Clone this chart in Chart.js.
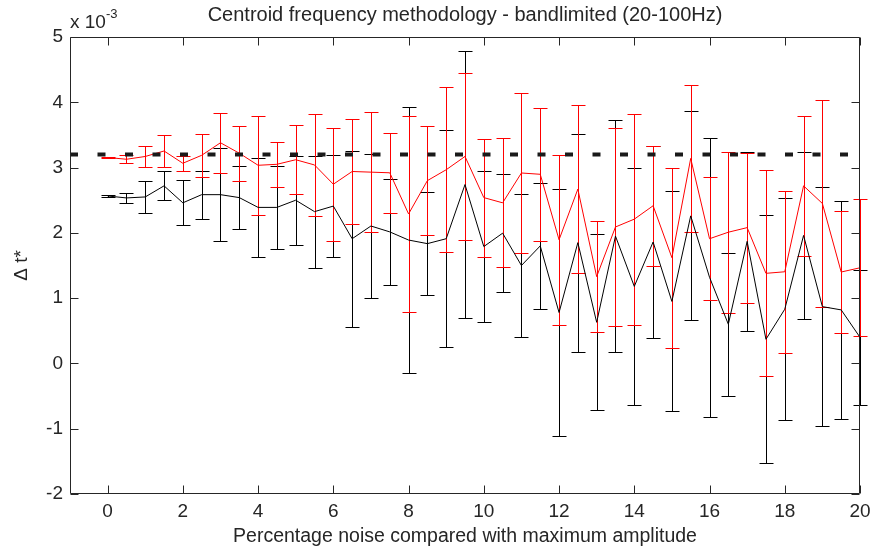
<!DOCTYPE html>
<html>
<head>
<meta charset="utf-8">
<script src="https://cdn.jsdelivr.net/npm/chart.js@4.4.0/dist/chart.umd.min.js"></script>
<style>
  body { margin: 0; background: #fff; }
  #wrap { width: 874px; height: 551px; }
</style>
</head>
<body>
<div id="wrap"><canvas id="centroidChart"></canvas></div>
<script>
// data (values in units of 1e-3)

var noise = [0, 0.5, 1, 1.5, 2, 2.5, 3, 3.5, 4, 4.5, 5, 5.5, 6, 6.5, 7, 7.5, 8, 8.5, 9, 9.5, 10,
             10.5, 11, 11.5, 12, 12.5, 13, 13.5, 14, 14.5, 15, 15.5, 16, 16.5, 17, 17.5, 18, 18.5, 19, 19.5, 20];

var blackMean = [2.565, 2.535, 2.55, 2.72, 2.46, 2.585, 2.585, 2.54, 2.39, 2.39, 2.50, 2.325, 2.41, 1.91, 2.105, 2.015, 1.89, 1.835, 1.91, 2.74, 1.79,
                 1.995, 1.50, 1.80, 0.78, 1.85, 0.63, 1.95, 1.18, 1.86, 0.95, 2.26, 1.32, 0.60, 1.87, 0.37, 0.83, 1.96, 0.87, 0.82, 0.40];
var blackErr = [0.01, 0.075, 0.245, 0.222, 0.342, 0.367, 0.71, 0.477, 0.763, 0.63, 0.68, 0.857, 0.786, 1.35, 1.11, 0.81, 2.04, 0.79, 1.66, 2.05, 1.16,
                0.906, 1.095, 0.96, 1.89, 1.67, 1.35, 1.78, 1.81, 1.47, 1.685, 1.60, 2.14, 1.095, 1.37, 1.90, 1.70, 1.276, 1.83, 1.67, 1.03];

var redMean = [3.155, 3.127, 3.17, 3.254, 3.066, 3.188, 3.38, 3.22, 3.035, 3.05, 3.12, 3.04, 2.745, 2.94, 2.93, 2.92, 2.29, 2.80, 2.967, 3.17, 2.54,
               2.46, 2.917, 2.897, 1.894, 2.67, 1.33, 2.09, 2.21, 2.415, 1.62, 3.14, 1.91, 2.01, 2.08, 1.38, 1.404, 2.72, 2.45, 1.40, 1.465];
var redErr = [0.01, 0.059, 0.158, 0.245, 0.112, 0.327, 0.457, 0.42, 0.76, 0.34, 0.53, 0.78, 0.865, 0.80, 0.92, 0.61, 1.50, 0.83, 1.26, 1.28, 0.905,
              0.99, 1.22, 1.015, 1.30, 1.29, 0.85, 1.51, 1.616, 0.92, 1.38, 1.12, 0.94, 1.23, 1.15, 1.58, 1.24, 1.07, 1.59, 0.94, 1.05];

var refValue = 3.2;
var refRange = [-1, 20];

var xTicks = [0, 2, 4, 6, 8, 10, 12, 14, 16, 18, 20];
var yTicks = [-2, -1, 0, 1, 2, 3, 4, 5];

var axisColor = '#262626';
var fontFamily = '"Liberation Sans", Arial, Helvetica, sans-serif';

function toPoints(xs, ys) {
	var pts = [];
	for (var i = 0; i < xs.length; i++) pts.push({x: xs[i], y: ys[i]});
	return pts;
}

// error bars drawn under the lines
var errorBars = {
	id: 'errorBars',
	beforeDatasetsDraw: function(chart) {
		var ctx = chart.ctx;
		var xs = chart.scales.x, ys = chart.scales.y;
		var sets = [[blackMean, blackErr, '#000000'], [redMean, redErr, '#ff0000']];
		ctx.save();
		ctx.lineWidth = 1;
		sets.forEach(function(s) {
			ctx.strokeStyle = s[2];
			ctx.beginPath();
			for (var i = 0; i < noise.length; i++) {
				var px = Math.round(xs.getPixelForValue(noise[i])) + 0.5;
				var top = Math.round(ys.getPixelForValue(s[0][i] + s[1][i])) + 0.5;
				var bot = Math.round(ys.getPixelForValue(s[0][i] - s[1][i])) + 0.5;
				ctx.moveTo(px, top); ctx.lineTo(px, bot);
				ctx.moveTo(px - 7, top); ctx.lineTo(px + 7, top);
				ctx.moveTo(px - 7, bot); ctx.lineTo(px + 7, bot);
			}
			ctx.stroke();
		});
		ctx.restore();
	}
};

// matlab style box with inward ticks and the exponent label
var axesBox = {
	id: 'axesBox',
	afterDraw: function(chart) {
		var ctx = chart.ctx, a = chart.chartArea;
		var xs = chart.scales.x, ys = chart.scales.y;
		var l = Math.round(a.left) + 0.5, r = Math.round(a.right) - 0.5;
		var t = Math.round(a.top) + 0.5, b = Math.round(a.bottom) - 0.5;
		ctx.save();
		ctx.strokeStyle = axisColor;
		ctx.lineWidth = 1;
		ctx.beginPath();
		ctx.rect(l, t, r - l, b - t);
		xTicks.forEach(function(v) {
			var px = Math.round(xs.getPixelForValue(v)) + 0.5;
			ctx.moveTo(px, b); ctx.lineTo(px, b - 8);
			ctx.moveTo(px, t); ctx.lineTo(px, t + 8);
		});
		yTicks.forEach(function(v) {
			var py = Math.round(ys.getPixelForValue(v)) + 0.5;
			ctx.moveTo(l, py); ctx.lineTo(l + 8, py);
			ctx.moveTo(r, py); ctx.lineTo(r - 8, py);
		});
		ctx.stroke();

		ctx.fillStyle = axisColor;
		ctx.textBaseline = 'alphabetic';
		ctx.textAlign = 'left';
		ctx.font = '19px ' + fontFamily;
		ctx.fillText('x 10', a.left, 28);
		ctx.font = '13px ' + fontFamily;
		ctx.fillText('-3', a.left + 36, 18);
		ctx.restore();
	}
};

var data = {
	datasets: [
		{
			label: 'reference',
			data: [{x: refRange[0], y: refValue}, {x: refRange[1], y: refValue}],
			borderColor: '#1a1a1a',
			borderWidth: 4,
			borderDash: [8, 19.5],
			pointRadius: 0
		},
		{
			label: 'red',
			data: toPoints(noise, redMean),
			borderColor: '#ff0000',
			borderWidth: 1,
			pointRadius: 0,
			tension: 0
		},
		{
			label: 'black',
			data: toPoints(noise, blackMean),
			borderColor: '#000000',
			borderWidth: 1,
			pointRadius: 0,
			tension: 0
		}
	]
};

var config = {
	type: 'line',
	data: data,
	plugins: [errorBars, axesBox],
	options: {
		responsive: true,
		maintainAspectRatio: false,
		animation: false,
		layout: { padding: { left: 0, right: 14, top: 0, bottom: 0 } },
		plugins: {
			legend: { display: false },
			tooltip: { enabled: false },
			title: {
				display: true,
				fullSize: false,
				text: 'Centroid frequency methodology - bandlimited (20-100Hz)',
				color: axisColor,
				font: { family: fontFamily, size: 20, weight: 'normal', lineHeight: 1.2 },
				padding: { top: 3, bottom: 10 }
			}
		},
		scales: {
			x: {
				type: 'linear',
				min: -1,
				max: 20,
				grid: { display: false, drawTicks: false },
				border: { display: false },
				afterBuildTicks: function(s) { s.ticks = xTicks.map(function(v) { return {value: v}; }); },
				afterFit: function(s) { s.height = 57; s.paddingLeft = 0; s.paddingRight = 0; },
				ticks: {
					color: axisColor,
					padding: 6,
					maxRotation: 0,
					font: { family: fontFamily, size: 19, lineHeight: 1.2 }
				},
				title: {
					display: true,
					text: 'Percentage noise compared with maximum amplitude',
					color: axisColor,
					font: { family: fontFamily, size: 19.5, lineHeight: 1.2 },
					padding: { top: 0, bottom: 3 }
				}
			},
			y: {
				type: 'linear',
				min: -2,
				max: 5,
				grid: { display: false, drawTicks: false },
				border: { display: false },
				afterBuildTicks: function(s) { s.ticks = yTicks.map(function(v) { return {value: v}; }); },
				afterFit: function(s) { s.width = 70; s.paddingTop = 0; s.paddingBottom = 0; },
				ticks: {
					color: axisColor,
					padding: 7,
					font: { family: fontFamily, size: 19, lineHeight: 1.2 }
				},
				title: {
					display: true,
					text: 'Δ t*',
					color: axisColor,
					font: { family: fontFamily, size: 19, lineHeight: 1.2 },
					padding: { top: 10, bottom: 0 }
				}
			}
		}
	}
};

var myChart = new Chart(document.getElementById('centroidChart'), config);
</script>
</body>
</html>
